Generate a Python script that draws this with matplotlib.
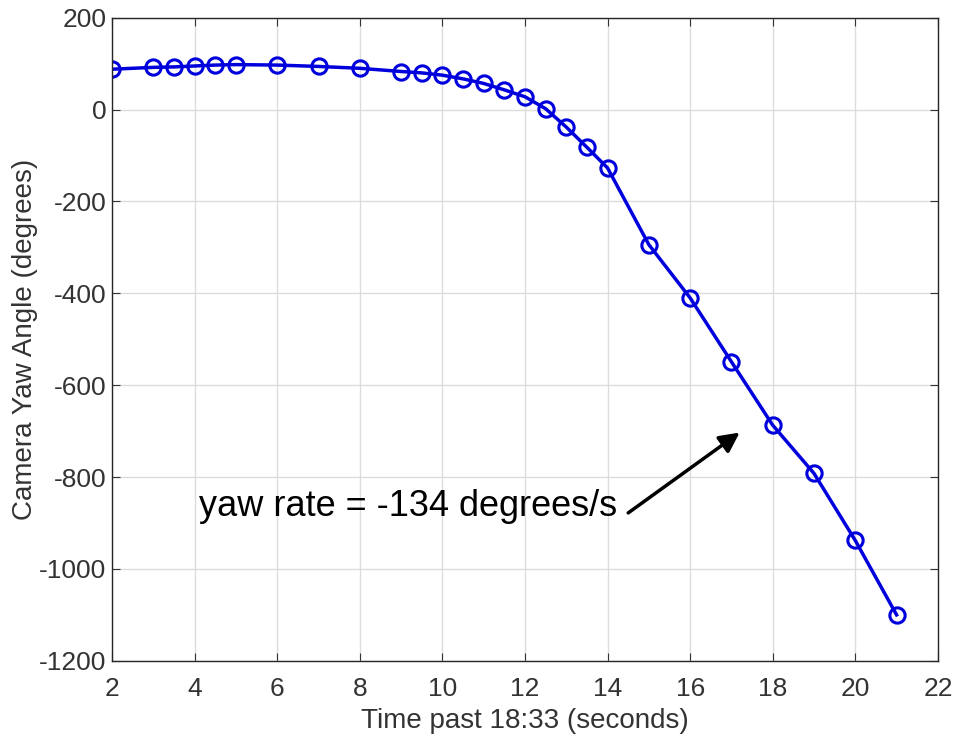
import matplotlib
matplotlib.use("Agg")
import matplotlib.pyplot as plt

time_s = [2, 3, 3.5, 4, 4.5, 5, 6, 7, 8, 9, 9.5, 10, 10.5, 11, 11.5, 12,
          12.5, 13, 13.5, 14, 15, 16, 17, 18, 19, 20, 21]
yaw_deg = [88, 92, 93, 95, 97, 98, 97, 94, 90, 83, 80, 75, 67, 57, 43, 28,
           2, -38, -82, -127, -294, -410, -549, -687, -792, -938, -1100]
xticks = [2, 4, 6, 8, 10, 12, 14, 16, 18, 20, 22]
yticks = [200, 0, -200, -400, -600, -800, -1000, -1200]

fam = ['Liberation Sans Narrow', 'Liberation Sans', 'DejaVu Sans']
plt.rcParams['font.family'] = fam
plt.rcParams['axes.unicode_minus'] = False

fig = plt.figure(figsize=(9.58, 7.40), dpi=100)
ax = fig.add_axes([0.117, 0.107, 0.862, 0.869])
ax.plot(time_s, yaw_deg, color='#0000dd', lw=2.5, marker='o', ms=11,
        mfc='none', mec='#0000dd', mew=2.2)
ax.set_xlim(2, 22)
ax.set_ylim(-1200, 200)
ax.set_xticks(xticks)
ax.set_yticks(yticks)
ax.grid(True, color='#dcdcdc', lw=1)
ax.set_axisbelow(True)
ax.tick_params(direction='in', top=True, right=True, labelsize=19,
               colors='#333333', length=6)
ax.tick_params(axis='x', pad=12)
ax.tick_params(axis='y', pad=4)
for s in ax.spines.values():
    s.set_color('#262626')
    s.set_linewidth(1)
ax.set_xlabel('Time past 18:33 (seconds)', fontsize=20, color='#333333',
              labelpad=5)
ax.set_ylabel('Camera Yaw Angle (degrees)', fontsize=20, color='#333333',
              labelpad=1)
ax.text(4.1, -865, 'yaw rate = -134 degrees/s', fontsize=26, color='black',
        va='center', ha='left', family=['Liberation Sans', 'DejaVu Sans'])
ax.annotate('', xy=(17.2, -703), xytext=(14.5, -878),
            arrowprops=dict(arrowstyle='-|>', color='black', lw=2.5,
                            mutation_scale=30, shrinkA=0, shrinkB=0))
fig.savefig('out.png', dpi=100, facecolor='white')
